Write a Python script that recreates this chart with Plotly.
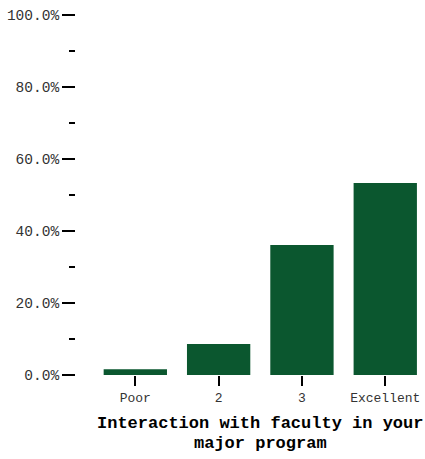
import plotly.graph_objects as go

categories = ["Poor", "2", "3", "Excellent"]
values = [0.016, 0.086, 0.361, 0.533]
title_lines = ["Interaction with faculty in your", "major program"]

FONT = "Courier New, Nimbus Mono PS, Liberation Mono, monospace"
BAR_COLOR = "#0B572F"

fig = go.Figure()
fig.add_trace(go.Bar(
    x=list(range(len(categories))),
    y=values,
    marker=dict(color=BAR_COLOR, line=dict(width=0)),
    width=0.76,
    hoverinfo="skip",
))

fig.update_layout(
    width=425, height=459,
    margin=dict(l=76, r=0, t=15, b=84),
    paper_bgcolor="white", plot_bgcolor="white",
    showlegend=False,
    font=dict(family=FONT, size=13, color="#333333"),
    xaxis=dict(
        range=[-0.712, 3.477],
        automargin=False,
        tickmode="array",
        tickvals=list(range(len(categories))),
        ticktext=categories,
        ticks="outside", ticklen=10, tickwidth=2, tickcolor="black",
        showline=False, showgrid=False, zeroline=False,
        tickfont=dict(family=FONT, size=13, color="#333333"),
    ),
    yaxis=dict(
        range=[0, 1.0],
        automargin=False,
        tickmode="linear", tick0=0, dtick=0.2,
        tickformat=".1%",
        ticks="outside", ticklen=13, tickwidth=2, tickcolor="black",
        showline=False, showgrid=False, zeroline=False,
        ticklabelstandoff=0,
        tickfont=dict(family=FONT, size=14.5, color="#333333"),
        minor=dict(dtick=0.1, tick0=0, ticks="outside", ticklen=6,
                   tickwidth=2, tickcolor="black", showgrid=False),
    ),
    annotations=[
        dict(x=1.5, xref="x", y=yp, yref="paper",
             text="<b>" + line + "</b>",
             showarrow=False, xanchor="center", yanchor="middle",
             font=dict(family=FONT, size=17, color="black"))
        for line, yp in zip(title_lines, [-0.136, -0.19])
    ],
)

fig.write_html(
    "out.html",
    config={"displayModeBar": False},
    post_script="document.body.style.margin='0';document.body.style.overflow='hidden';",
)
